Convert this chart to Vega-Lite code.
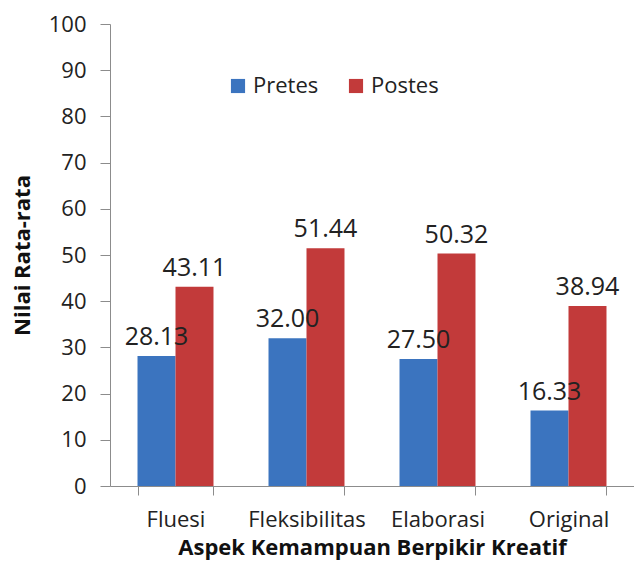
{
  "$schema": "https://vega.github.io/schema/vega-lite/v6.json",
  "width": 524,
  "height": 462,
  "autosize": {"type": "none"},
  "padding": {"left": 110, "top": 24, "right": 0, "bottom": 76},
  "background": "white",
  "config": {
    "view": {"stroke": null},
    "font": "Open Sans"
  },
  "data": {
    "values": [
      {"aspek": "Fluesi", "kelompok": "Pretes", "nilai": 28.13},
      {"aspek": "Fluesi", "kelompok": "Postes", "nilai": 43.11},
      {"aspek": "Fleksibilitas", "kelompok": "Pretes", "nilai": 32.00},
      {"aspek": "Fleksibilitas", "kelompok": "Postes", "nilai": 51.44},
      {"aspek": "Elaborasi", "kelompok": "Pretes", "nilai": 27.50},
      {"aspek": "Elaborasi", "kelompok": "Postes", "nilai": 50.32},
      {"aspek": "Original", "kelompok": "Pretes", "nilai": 16.33},
      {"aspek": "Original", "kelompok": "Postes", "nilai": 38.94}
    ]
  },
  "encoding": {
    "x": {
      "field": "aspek",
      "type": "nominal",
      "sort": ["Fluesi", "Fleksibilitas", "Elaborasi", "Original"],
      "scale": {"paddingInner": 0.42, "paddingOuter": 0.21},
      "axis": {
        "title": "Aspek Kemampuan Berpikir Kreatif",
        "titleFont": "Open Sans",
        "titleFontSize": 22,
        "titleFontWeight": "bold",
        "titleColor": "#111",
        "titleBaseline": "alphabetic",
        "titleY": 68,
        "labelAngle": 0,
        "labelFont": "Open Sans",
        "labelFontSize": 22,
        "labelColor": "#222",
        "labelPadding": 14,
        "tickBand": "extent",
        "tickSize": 9,
        "tickColor": "#8c8c8c",
        "domainColor": "#8c8c8c",
        "grid": false
      }
    },
    "xOffset": {
      "field": "kelompok",
      "type": "nominal",
      "sort": ["Pretes", "Postes"],
      "scale": {"paddingInner": 0, "paddingOuter": 0}
    },
    "y": {
      "field": "nilai",
      "type": "quantitative",
      "scale": {"domain": [0, 100], "nice": false},
      "axis": {
        "title": "Nilai Rata-rata",
        "titleFont": "Open Sans",
        "titleFontSize": 22,
        "titleFontWeight": "bold",
        "titleColor": "#111",
        "titleX": -88,
        "titleY": 231,
        "titleAngle": -90,
        "titleAlign": "center",
        "titleBaseline": "middle",
        "values": [0, 10, 20, 30, 40, 50, 60, 70, 80, 90, 100],
        "labelFont": "Open Sans",
        "labelFontSize": 22,
        "labelColor": "#222",
        "labelPadding": 14,
        "tickSize": 10,
        "tickColor": "#8c8c8c",
        "domainColor": "#8c8c8c",
        "grid": false
      }
    }
  },
  "layer": [
    {
      "mark": {"type": "bar"},
      "encoding": {
        "color": {
          "field": "kelompok",
          "type": "nominal",
          "sort": ["Pretes", "Postes"],
          "scale": {"domain": ["Pretes", "Postes"], "range": ["#3b74bf", "#c23a3a"]},
          "legend": {
            "title": null,
            "orient": "none",
            "legendX": 117,
            "legendY": 51,
            "direction": "horizontal",
            "symbolType": "square",
            "symbolSize": 200,
            "symbolStrokeWidth": 0,
            "labelFont": "Open Sans",
            "labelFontSize": 22,
            "labelColor": "#222",
            "labelOffset": 4,
            "columnPadding": 26
          }
        }
      }
    },
    {
      "mark": {"type": "text", "baseline": "alphabetic", "dy": -11, "fontSize": 25, "font": "Open Sans", "color": "#222"},
      "encoding": {
        "text": {"field": "nilai", "type": "quantitative", "format": ".2f"}
      }
    }
  ]
}
